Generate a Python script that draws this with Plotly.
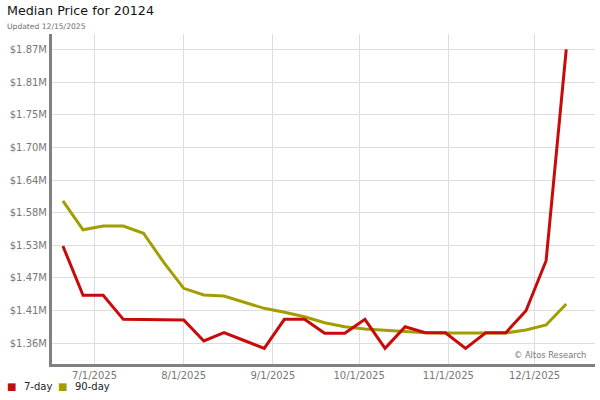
import plotly.graph_objects as go
import pandas as pd

dates = pd.date_range("2025-06-20", periods=26, freq="7D")
seven_day = [1.5288, 1.4433, 1.4433, 1.4016, 1.4013, 1.4004, 1.4004, 1.3640, 1.3784, 1.3649,
             1.3513, 1.4016, 1.4016, 1.3774, 1.3774, 1.4016, 1.3513, 1.3888, 1.3784, 1.3784,
             1.3513, 1.3784, 1.3784, 1.4166, 1.5033, 1.8701]
ninety_day = [1.6070, 1.5570, 1.5635, 1.5635, 1.5510, 1.5010, 1.4554, 1.4438, 1.4420, 1.4317,
              1.4207, 1.4138, 1.4060, 1.3957, 1.3888, 1.3848, 1.3826, 1.3808, 1.3784, 1.3780,
              1.3780, 1.3780, 1.3780, 1.3830, 1.3918, 1.4282]
seven_day = [v * 1e6 for v in seven_day]
ninety_day = [v * 1e6 for v in ninety_day]

series_names = ["7-day", "90-day"]
y_tick_text = ["$1.36M", "$1.41M", "$1.47M", "$1.53M", "$1.58M", "$1.64M", "$1.70M", "$1.75M", "$1.81M", "$1.87M"]
y_tick_vals = [1.36e6 + k * (0.51e6 / 9) for k in range(10)]
x_tick_vals = ["2025-07-01", "2025-08-01", "2025-09-01", "2025-10-01", "2025-11-01", "2025-12-01"]
x_tick_text = ["7/1/2025", "8/1/2025", "9/1/2025", "10/1/2025", "11/1/2025", "12/1/2025"]

RED = "#c80a0a"
GOLD = "#a39e00"
FONT = "DejaVu Sans"

fig = go.Figure()
fig.add_trace(go.Scatter(x=dates, y=ninety_day, mode="lines", name=series_names[1],
                         line=dict(color=GOLD, width=3), showlegend=False, hoverinfo="skip"))
fig.add_trace(go.Scatter(x=dates, y=seven_day, mode="lines", name=series_names[0],
                         line=dict(color=RED, width=3), showlegend=False, hoverinfo="skip"))

annotations = [
    dict(text="Median Price for 20124", x=0, y=1, xref="paper", yref="paper", showarrow=False,
         xanchor="left", yanchor="top", xshift=-47, yshift=33,
         font=dict(family=FONT, size=12.7, color="#111111")),
    dict(text="Updated 12/15/2025", x=0, y=1, xref="paper", yref="paper", showarrow=False,
         xanchor="left", yanchor="top", xshift=-47, yshift=14,
         font=dict(family=FONT, size=7.6, color="#6f6f6f")),
    dict(text="© Altos Research", x=1, y=0, xref="paper", yref="paper", showarrow=False,
         xanchor="right", yanchor="bottom", xshift=-7, yshift=2,
         font=dict(family=FONT, size=8.3, color="#777777")),
]
# legend (squares + labels) below the plot
for name, color, sq_shift, txt_shift in [(series_names[0], RED, -41, -30),
                                         (series_names[1], GOLD, 10, 21)]:
    annotations.append(dict(text="■", x=0, y=0, xref="paper", yref="paper", showarrow=False,
                            xanchor="center", yanchor="middle", xshift=sq_shift, yshift=-22,
                            font=dict(family=FONT, size=10, color=color)))
    annotations.append(dict(text=name, x=0, y=0, xref="paper", yref="paper", showarrow=False,
                            xanchor="left", yanchor="middle", xshift=txt_shift, yshift=-22,
                            font=dict(family=FONT, size=10, color="#222222")))

fig.update_layout(
    width=600, height=400,
    margin=dict(l=52, r=5, t=34, b=36, autoexpand=False),
    paper_bgcolor="white", plot_bgcolor="white",
    font=dict(family=FONT, size=10, color="#333333"),
    showlegend=False,
    xaxis=dict(range=["2025-06-16 05:00", "2025-12-22"], tickvals=x_tick_vals, ticktext=x_tick_text,
               showgrid=True, gridcolor="#dddddd", gridwidth=1, automargin=False,
               showline=True, linecolor="#808080", linewidth=3, ticks="",
               tickfont=dict(family=FONT, size=10, color="#777777"), zeroline=False, fixedrange=True),
    yaxis=dict(range=[1.3241e6, 1.8967e6], tickvals=y_tick_vals, ticktext=y_tick_text,
               showgrid=True, gridcolor="#dddddd", gridwidth=1, automargin=False,
               showline=True, linecolor="#808080", linewidth=3, ticks="",
               tickfont=dict(family=FONT, size=10, color="#777777"), zeroline=False, fixedrange=True),
    annotations=annotations,
)

fig.write_html("out.html", config={"displayModeBar": False},
               post_script="document.body.style.margin='0';")
